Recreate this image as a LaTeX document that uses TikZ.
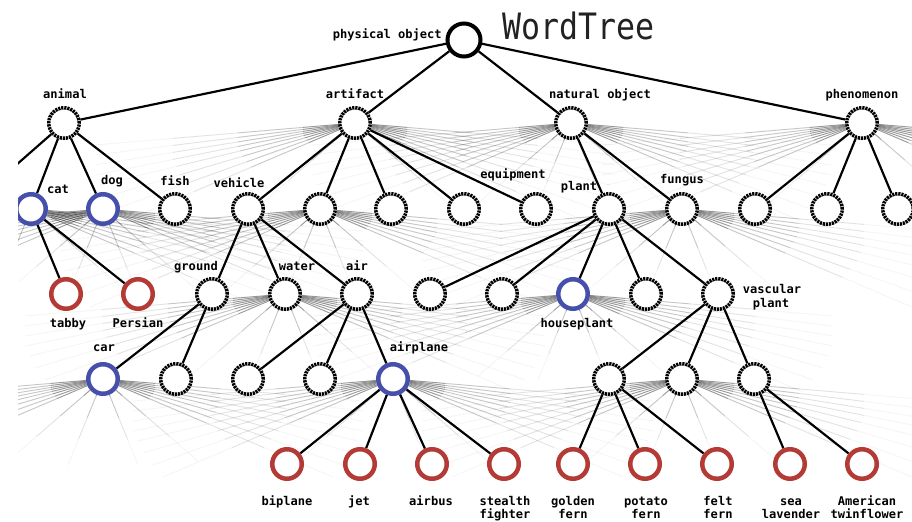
\documentclass[tikz,border=0pt]{standalone}
\usepackage{fontspec}
\setmonofont{DejaVu Sans Mono}
\usetikzlibrary{calc,backgrounds}
\definecolor{nblue}{HTML}{4650AA}
\definecolor{nred}{HTML}{B43A35}
\definecolor{titlec}{HTML}{222222}
\tikzset{
  dotnode/.style={circle,inner sep=0pt,minimum size=9.15mm,draw=black,line width=1.05mm,dash pattern=on 0.66mm off 0.26mm,fill=white},
  bluenode/.style={circle,inner sep=0pt,minimum size=8.85mm,draw=nblue,line width=1.35mm,fill=white},
  rednode/.style={circle,inner sep=0pt,minimum size=8.85mm,draw=nred,line width=1.35mm,fill=white},
  rootnode/.style={circle,inner sep=0pt,minimum size=9.9mm,draw=black,line width=1.2mm,fill=white},
  lab/.style={font=\ttfamily\bfseries\fontsize{10.3}{12}\selectfont,inner sep=0pt,anchor=base},
  edge/.style={line width=0.65mm,black},
  fa/.style={line width=0.28mm,black,opacity=0.4},
  fb/.style={line width=0.28mm,black,opacity=0.22},
  fc/.style={line width=0.28mm,black,opacity=0.11},
  fd/.style={line width=0.28mm,black,opacity=0.04},
}
\newcommand\myfan[1]{%
  \foreach \dx/\dy in {-260/22,-260/32,-260/42,-260/52,-255/62,-250/74,-240/86,-230/98,-95/82,-35/86,
                        260/22,260/32,260/42,260/52,255/62,250/74,240/86,230/98,95/82,35/86}{%
    \coordinate (ft) at ($(#1)+(\dx,\dy)$);
    \draw[fa] (#1) -- ($(#1)!0.2!(ft)$);
    \draw[fb] ($(#1)!0.2!(ft)$) -- ($(#1)!0.45!(ft)$);
    \draw[fc] ($(#1)!0.45!(ft)$) -- ($(#1)!0.7!(ft)$);
    \draw[fd] ($(#1)!0.7!(ft)$) -- (ft);
  }%
}
\begin{document}
\begin{tikzpicture}[x=0.3mm,y=-0.3mm]
\useasboundingbox (0,0) rectangle (912,521);
\begin{scope}
\clip (18,0) rectangle (912,521);
% level 0
\node[rootnode] (root) at (464,40) {};
% level 1
\node[dotnode] (animal) at (64,123) {};
\node[dotnode] (artifact) at (355,123) {};
\node[dotnode] (natob) at (571,123) {};
\node[dotnode] (phenom) at (862,123) {};
% level 2
\node[bluenode] (cat) at (31,209) {};
\node[bluenode] (dog) at (103,209) {};
\node[dotnode] (fish) at (175,209) {};
\node[dotnode] (vehicle) at (248,209) {};
\node[dotnode] (n2a) at (320,209) {};
\node[dotnode] (n2b) at (391,209) {};
\node[dotnode] (n2c) at (464,209) {};
\node[dotnode] (equip) at (536,209) {};
\node[dotnode] (plant) at (609,209) {};
\node[dotnode] (fungus) at (682,209) {};
\node[dotnode] (n2d) at (755,209) {};
\node[dotnode] (n2e) at (827,209) {};
\node[dotnode] (n2f) at (898,209) {};
% level 3
\node[rednode] (tabby) at (66,294) {};
\node[rednode] (persian) at (138,294) {};
\node[dotnode] (ground) at (212,294) {};
\node[dotnode] (water) at (285,294) {};
\node[dotnode] (air) at (357,294) {};
\node[dotnode] (n3a) at (430,294) {};
\node[dotnode] (n3b) at (502,294) {};
\node[bluenode] (house) at (573,294) {};
\node[dotnode] (n3c) at (646,294) {};
\node[dotnode] (vasc) at (718,294) {};
% level 4
\node[bluenode] (car) at (103,379) {};
\node[dotnode] (n4a) at (176,379) {};
\node[dotnode] (n4b) at (248,379) {};
\node[dotnode] (n4c) at (320,379) {};
\node[bluenode] (airplane) at (393,379) {};
\node[dotnode] (n4d) at (609,379) {};
\node[dotnode] (n4e) at (682,379) {};
\node[dotnode] (n4f) at (754,379) {};
% level 5
\node[rednode] (biplane) at (287,464) {};
\node[rednode] (jet) at (360,464) {};
\node[rednode] (airbus) at (432,464) {};
\node[rednode] (stealth) at (504,464) {};
\node[rednode] (golden) at (573,464) {};
\node[rednode] (potato) at (645,464) {};
\node[rednode] (felt) at (717,464) {};
\node[rednode] (sea) at (790,464) {};
\node[rednode] (american) at (862,464) {};
\end{scope}
\coordinate (offL) at (-34,209);

% labels
\node[font=\ttfamily\fontsize{31}{34}\selectfont,text=titlec,inner sep=0pt,anchor=base west,xscale=0.87,transform shape] (title) at (502,40) {WordTree};
\node[lab,anchor=base east] (lroot) at (442,39) {physical object};
\node[lab] (lanimal) at (65,99) {animal};
\node[lab] (lartifact) at (355,99) {artifact};
\node[lab] (lnatob) at (600,99) {natural object};
\node[lab] (lphenom) at (862,99) {phenomenon};
\node[lab] (lcat) at (58,193) {cat};
\node[lab] (ldog) at (112,184) {dog};
\node[lab] (lfish) at (175,185) {fish};
\node[lab] (lvehicle) at (239,187) {vehicle};
\node[lab] (lequip) at (513,178) {equipment};
\node[lab] (lplant) at (579,190) {plant};
\node[lab] (lfungus) at (682,183) {fungus};
\node[lab] (lground) at (196,270) {ground};
\node[lab] (lwater) at (297,270) {water};
\node[lab] (lair) at (357,270) {air};
\node[lab] (ltabby) at (68,327) {tabby};
\node[lab] (lpersian) at (138,327) {Persian};
\node[lab] (lhouse) at (577,327) {houseplant};
\node[lab] (lvasc1) at (772,293) {vascular};
\node[lab] (lvasc2) at (771,307) {plant};
\node[lab] (lcar) at (104,351) {car};
\node[lab] (lairplane) at (419,351) {airplane};
\node[lab] (lbiplane) at (287,505) {biplane};
\node[lab] (ljet) at (359,505) {jet};
\node[lab] (lairbus) at (431,505) {airbus};
\node[lab] (lstealth1) at (505,505) {stealth};
\node[lab] (lstealth2) at (505,518) {fighter};
\node[lab] (lgolden1) at (573,505) {golden};
\node[lab] (lgolden2) at (573,518) {fern};
\node[lab] (lpotato1) at (646,505) {potato};
\node[lab] (lpotato2) at (646,518) {fern};
\node[lab] (lfelt1) at (718,505) {felt};
\node[lab] (lfelt2) at (718,518) {fern};
\node[lab] (lsea1) at (791,505) {sea};
\node[lab] (lsea2) at (791,518) {lavender};
\node[lab] (lam1) at (867,505) {American};
\node[lab] (lam2) at (867,518) {twinflower};

\begin{scope}[on background layer]
\clip (18,0) rectangle (912,521);
\foreach \n in {artifact,natob,phenom,cat,dog,n2a,fungus,water,house,car,airplane,n4e}{\myfan{\n}}
\foreach \a/\b in {root/animal,root/artifact,root/natob,root/phenom,
  animal/offL,animal/cat,animal/dog,animal/fish,
  artifact/vehicle,artifact/n2a,artifact/n2b,artifact/n2c,artifact/equip,
  natob/plant,natob/fungus,
  phenom/n2d,phenom/n2e,phenom/n2f,
  cat/tabby,cat/persian,
  vehicle/ground,vehicle/water,vehicle/air,
  plant/n3a,plant/n3b,plant/house,plant/n3c,plant/vasc,
  ground/car,ground/n4a,
  air/n4b,air/n4c,air/airplane,
  vasc/n4d,vasc/n4e,vasc/n4f,
  airplane/biplane,airplane/jet,airplane/airbus,airplane/stealth,
  n4d/golden,n4d/potato,n4d/felt,
  n4f/sea,n4f/american}{\draw[edge] (\a) -- (\b);}
\end{scope}
\end{tikzpicture}
\end{document}
